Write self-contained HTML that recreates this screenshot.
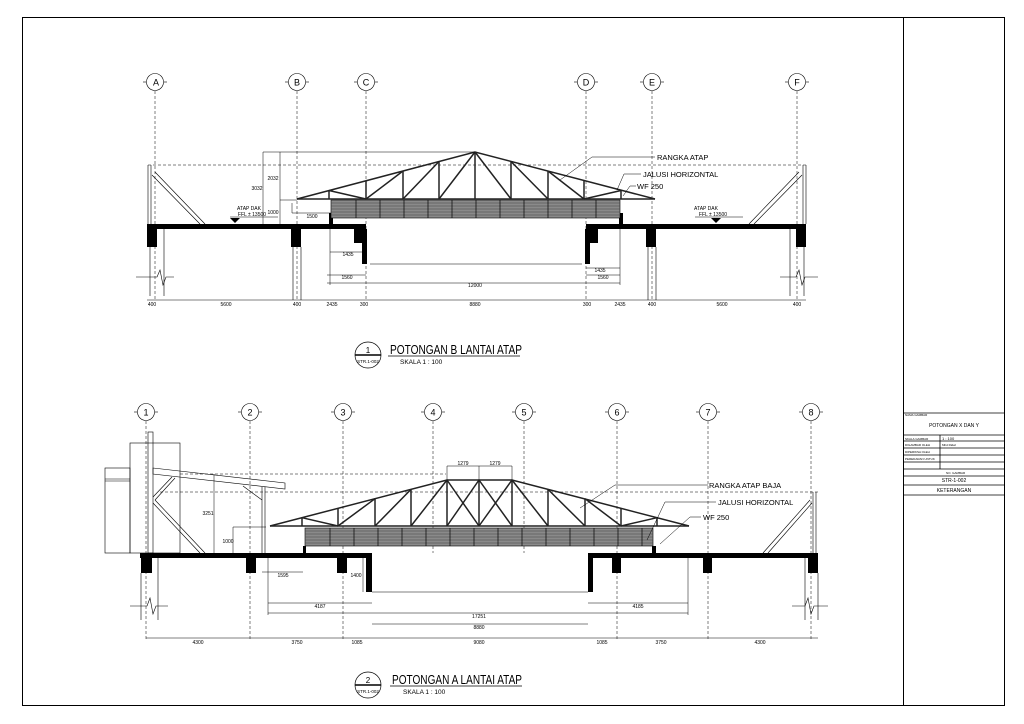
<!DOCTYPE html>
<html><head><meta charset="utf-8"><style>
html,body{margin:0;padding:0;background:#fff}
svg{display:block}
text{font-family:"Liberation Sans",sans-serif;fill:#000}
</style></head><body>
<svg width="1024" height="724" viewBox="0 0 1024 724" xmlns="http://www.w3.org/2000/svg">
<rect x="0" y="0" width="1024" height="724" fill="#fff"/>
<!-- frame -->
<rect x="22.5" y="17.5" width="982" height="688" fill="none" stroke="#000" stroke-width="1"/>
<line x1="903.5" y1="17" x2="903.5" y2="705" stroke="#000"/>
<!-- title block -->
<g stroke="#000" stroke-width="0.8" fill="none">
<line x1="903" y1="413" x2="1005" y2="413"/>
<line x1="903" y1="435" x2="1005" y2="435"/>
<line x1="903" y1="441" x2="1005" y2="441"/>
<line x1="903" y1="448" x2="1005" y2="448"/>
<line x1="903" y1="455" x2="1005" y2="455"/>
<line x1="903" y1="462" x2="1005" y2="462"/>
<line x1="903" y1="469" x2="1005" y2="469"/>
<line x1="903" y1="476" x2="1005" y2="476"/>
<line x1="903" y1="485" x2="1005" y2="485"/>
<line x1="903" y1="495" x2="1005" y2="495"/>
<line x1="940" y1="435" x2="940" y2="469"/>
</g>
<g font-size="3">
<text x="905" y="416">NAMA GAMBAR</text>
<text x="905" y="440">SKALA GAMBAR</text>
<text x="905" y="446">DIGAMBAR OLEH</text>
<text x="905" y="453">DIPERIKSA OLEH</text>
<text x="905" y="460">PEREDARAN UNTUK</text>
<text x="942" y="446">Mhd Ridwi</text>
<text x="946" y="474">NO. GAMBAR</text>
</g>
<text x="954" y="427" font-size="5" text-anchor="middle">POTONGAN X DAN Y</text>
<text x="942" y="440" font-size="4">1 : 100</text>
<text x="954" y="482" font-size="5" text-anchor="middle">STR-1-002</text>
<text x="954" y="492" font-size="5" text-anchor="middle">KETERANGAN</text>

<!-- ================= TOP SECTION ================= -->
<g stroke="#000" stroke-width="0.6" fill="none">
<!-- grid bubbles -->
<g>
<circle cx="155" cy="82" r="8.5"/><line x1="143" y1="82" x2="146" y2="82"/><line x1="164" y1="82" x2="167" y2="82"/>
<circle cx="297" cy="82" r="8.5"/><line x1="285" y1="82" x2="288" y2="82"/><line x1="306" y1="82" x2="309" y2="82"/>
<circle cx="366" cy="82" r="8.5"/><line x1="354" y1="82" x2="357" y2="82"/><line x1="375" y1="82" x2="378" y2="82"/>
<circle cx="586" cy="82" r="8.5"/><line x1="574" y1="82" x2="577" y2="82"/><line x1="595" y1="82" x2="598" y2="82"/>
<circle cx="652" cy="82" r="8.5"/><line x1="640" y1="82" x2="643" y2="82"/><line x1="661" y1="82" x2="664" y2="82"/>
<circle cx="797" cy="82" r="8.5"/><line x1="785" y1="82" x2="788" y2="82"/><line x1="806" y1="82" x2="809" y2="82"/>
</g>
<g stroke-dasharray="3,2" stroke-width="0.5">
<line x1="155" y1="91" x2="155" y2="300"/>
<line x1="297" y1="91" x2="297" y2="300"/>
<line x1="366" y1="91" x2="366" y2="300"/>
<line x1="586" y1="91" x2="586" y2="300"/>
<line x1="652" y1="91" x2="652" y2="300"/>
<line x1="797" y1="91" x2="797" y2="300"/>
<line x1="148" y1="165" x2="806" y2="165"/>
</g>
<!-- edge posts -->
<line x1="148" y1="165" x2="148" y2="224"/><line x1="151" y1="165" x2="151" y2="224"/>
<line x1="806" y1="165" x2="806" y2="224"/><line x1="803" y1="165" x2="803" y2="224"/>
<!-- braces -->
<line x1="152" y1="175" x2="200" y2="224"/><line x1="155" y1="172" x2="205" y2="224"/>
<line x1="802" y1="175" x2="754" y2="224"/><line x1="799" y1="172" x2="749" y2="224"/>
<!-- columns below (thin) -->
<line x1="150" y1="247" x2="150" y2="296"/><line x1="164" y1="229" x2="164" y2="296"/>
<line x1="293" y1="247" x2="293" y2="300"/><line x1="301" y1="247" x2="301" y2="300"/>
<line x1="648" y1="247" x2="648" y2="300"/><line x1="656" y1="247" x2="656" y2="300"/>
<line x1="804" y1="247" x2="804" y2="296"/><line x1="790" y1="229" x2="790" y2="296"/>
<!-- break lines -->
<polyline points="136,277 157,277 160,270 163,285 166,277 174,277"/>
<polyline points="780,277 796,277 799,270 802,285 805,277 818,277"/>
<!-- center opening line -->
<line x1="370" y1="264" x2="582" y2="264"/>
</g>
<!-- slab -->
<g fill="#000">
<rect x="147" y="224" width="219" height="5"/>
<rect x="586" y="224" width="220" height="5"/>
<rect x="147" y="229" width="10" height="18"/>
<rect x="291" y="229" width="10" height="18"/>
<rect x="354" y="229" width="12" height="14"/>
<rect x="362" y="229" width="5" height="35"/>
<rect x="586" y="229" width="12" height="14"/>
<rect x="585" y="229" width="5" height="35"/>
<rect x="646" y="229" width="10" height="18"/>
<rect x="796" y="229" width="10" height="18"/>
<rect x="329" y="213" width="4" height="11"/>
<rect x="619" y="213" width="4" height="11"/>
<polygon points="230,218 240,218 235,223"/>
<polygon points="711,218 721,218 716,223"/>
</g>
<!-- louvre band -->
<rect x="331" y="200" width="289" height="18" fill="#8a8a8a" stroke="#000" stroke-width="0.6"/>
<g stroke="#444" stroke-width="0.5">
<line x1="331" y1="203" x2="620" y2="203"/><line x1="331" y1="206" x2="620" y2="206"/>
<line x1="331" y1="209" x2="620" y2="209"/><line x1="331" y1="212" x2="620" y2="212"/>
<line x1="331" y1="215" x2="620" y2="215"/>
</g>
<g stroke="#000" stroke-width="0.7">
<line x1="356" y1="200" x2="356" y2="218"/><line x1="380" y1="200" x2="380" y2="218"/><line x1="404" y1="200" x2="404" y2="218"/><line x1="428" y1="200" x2="428" y2="218"/><line x1="452" y1="200" x2="452" y2="218"/><line x1="476" y1="200" x2="476" y2="218"/><line x1="500" y1="200" x2="500" y2="218"/><line x1="524" y1="200" x2="524" y2="218"/><line x1="548" y1="200" x2="548" y2="218"/><line x1="572" y1="200" x2="572" y2="218"/><line x1="596" y1="200" x2="596" y2="218"/>
</g>
<!-- truss top -->
<g stroke="#222" stroke-width="1.5" fill="none">
<polyline points="297,199 475,152 655,199"/>
<line x1="297" y1="199" x2="655" y2="199"/>
<line x1="329" y1="190.5" x2="329" y2="199"/><line x1="366" y1="181" x2="366" y2="199"/>
<line x1="403" y1="171" x2="403" y2="199"/><line x1="439" y1="161.5" x2="439" y2="199"/>
<line x1="475" y1="152" x2="475" y2="199"/>
<line x1="511" y1="161.5" x2="511" y2="199"/><line x1="548" y1="171" x2="548" y2="199"/>
<line x1="584" y1="181" x2="584" y2="199"/><line x1="621" y1="190.5" x2="621" y2="199"/>
<line x1="329" y1="190.5" x2="366" y2="199"/>
<line x1="366" y1="199" x2="403" y2="171"/><line x1="403" y1="199" x2="439" y2="161.5"/><line x1="439" y1="199" x2="475" y2="152"/>
<line x1="621" y1="190.5" x2="584" y2="199"/>
<line x1="584" y1="199" x2="548" y2="171"/><line x1="548" y1="199" x2="511" y2="161.5"/><line x1="511" y1="199" x2="475" y2="152"/>
</g>
<!-- dims top -->
<g stroke="#000" stroke-width="0.5" fill="none">
<line x1="147" y1="300" x2="806" y2="300"/>
<line x1="263" y1="152" x2="475" y2="152"/>
<line x1="263" y1="152" x2="263" y2="224"/><line x1="280" y1="152" x2="280" y2="224"/>
<line x1="280" y1="200" x2="297" y2="200"/>
<line x1="292" y1="203" x2="292" y2="213"/><line x1="292" y1="213" x2="331" y2="213"/>
<line x1="330" y1="226" x2="330" y2="285"/><line x1="620" y1="226" x2="620" y2="285"/>
<line x1="330" y1="252" x2="366" y2="252"/><line x1="586" y1="268" x2="620" y2="268"/>
<line x1="327" y1="275" x2="366" y2="275"/><line x1="586" y1="275" x2="620" y2="275"/>
<line x1="327" y1="283" x2="620" y2="283"/>
<line x1="230" y1="217" x2="278" y2="217"/><line x1="695" y1="217" x2="743" y2="217"/>
<!-- leaders -->
<polyline points="560,180 592,157 655,157"/>
<polyline points="617,190 624,174 641,174"/>
<polyline points="623,196 630,186 636,186"/>
</g>
<g font-size="5" text-anchor="middle">
<text x="152" y="306">400</text><text x="226" y="306">5600</text><text x="297" y="306">400</text>
<text x="332" y="306">2435</text><text x="364" y="306">300</text><text x="475" y="306">8880</text>
<text x="587" y="306">300</text><text x="620" y="306">2435</text><text x="652" y="306">400</text>
<text x="722" y="306">5600</text><text x="797" y="306">400</text>
<text x="348" y="256">1435</text><text x="600" y="272">1435</text>
<text x="347" y="279">1560</text><text x="603" y="279">1560</text>
<text x="475" y="287">12000</text>
<text x="273" y="180">2032</text><text x="257" y="190">3032</text><text x="273" y="214">1000</text>
<text x="312" y="218">1500</text>
<text x="249" y="210">ATAP DAK</text><text x="252" y="216">FFL ± 13500</text>
<text x="706" y="210">ATAP DAK</text><text x="713" y="216">FFL ± 13500</text>
</g>
<g font-size="9" font-family="Liberation Sans">
<text x="156" y="85.5" text-anchor="middle">A</text><text x="297" y="85.5" text-anchor="middle">B</text>
<text x="366" y="85.5" text-anchor="middle">C</text><text x="586" y="85.5" text-anchor="middle">D</text>
<text x="652" y="85.5" text-anchor="middle">E</text><text x="797" y="85.5" text-anchor="middle">F</text>
</g>
<g font-size="7.5">
<text x="657" y="160">RANGKA ATAP</text>
<text x="643" y="177">JALUSI HORIZONTAL</text>
<text x="637" y="189">WF 250</text>
</g>
<!-- title 1 -->
<circle cx="368" cy="355" r="13" fill="none" stroke="#000" stroke-width="0.7"/>
<line x1="355" y1="355" x2="381" y2="355" stroke="#000" stroke-width="1.5"/>
<text x="368" y="353" font-size="8" text-anchor="middle">1</text>
<text x="368" y="363" font-size="4.5" text-anchor="middle">STR.1-002</text>
<text x="390" y="354" font-size="13" transform="scale(1,1)" textLength="132" lengthAdjust="spacingAndGlyphs">POTONGAN B LANTAI ATAP</text>
<line x1="388" y1="356" x2="520" y2="356" stroke="#000" stroke-width="0.7"/>
<text x="400" y="364" font-size="6.5">SKALA 1 : 100</text>

<!-- ================= BOTTOM SECTION ================= -->
<g stroke="#000" stroke-width="0.6" fill="none">
<g>
<circle cx="146" cy="412" r="8.5"/><line x1="134" y1="412" x2="137" y2="412"/><line x1="155" y1="412" x2="158" y2="412"/>
<circle cx="250" cy="412" r="8.5"/><line x1="238" y1="412" x2="241" y2="412"/><line x1="259" y1="412" x2="262" y2="412"/>
<circle cx="343" cy="412" r="8.5"/><line x1="331" y1="412" x2="334" y2="412"/><line x1="352" y1="412" x2="355" y2="412"/>
<circle cx="433" cy="412" r="8.5"/><line x1="421" y1="412" x2="424" y2="412"/><line x1="442" y1="412" x2="445" y2="412"/>
<circle cx="524" cy="412" r="8.5"/><line x1="512" y1="412" x2="515" y2="412"/><line x1="533" y1="412" x2="536" y2="412"/>
<circle cx="617" cy="412" r="8.5"/><line x1="605" y1="412" x2="608" y2="412"/><line x1="626" y1="412" x2="629" y2="412"/>
<circle cx="708" cy="412" r="8.5"/><line x1="696" y1="412" x2="699" y2="412"/><line x1="717" y1="412" x2="720" y2="412"/>
<circle cx="811" cy="412" r="8.5"/><line x1="799" y1="412" x2="802" y2="412"/><line x1="820" y1="412" x2="823" y2="412"/>
</g>
<g stroke-dasharray="3,2" stroke-width="0.5">
<line x1="146" y1="421" x2="146" y2="640"/><line x1="250" y1="421" x2="250" y2="640"/>
<line x1="343" y1="421" x2="343" y2="640"/><line x1="433" y1="421" x2="433" y2="553"/>
<line x1="524" y1="421" x2="524" y2="553"/><line x1="617" y1="421" x2="617" y2="640"/>
<line x1="708" y1="421" x2="708" y2="640"/><line x1="811" y1="421" x2="811" y2="640"/>
<line x1="180" y1="474" x2="446" y2="474"/>
<line x1="160" y1="492" x2="818" y2="492"/>
</g>
<!-- left building -->
<rect x="130" y="443" width="50" height="110"/>
<rect x="105" y="468" width="25" height="85"/>
<line x1="105" y1="479" x2="130" y2="479"/><line x1="105" y1="481" x2="130" y2="481"/>
<rect x="148" y="432" width="5" height="121"/>
<polygon points="153,468 285,483 285,489 153,474"/>
<line x1="262" y1="487" x2="262" y2="553"/><line x1="265" y1="487" x2="265" y2="553"/>
<line x1="153" y1="497" x2="172" y2="477"/><line x1="155" y1="500" x2="175" y2="478"/>
<line x1="153" y1="503" x2="200" y2="553"/><line x1="155" y1="500" x2="205" y2="553"/>
<line x1="243" y1="486" x2="262" y2="500"/>
<line x1="813" y1="492" x2="813" y2="553"/><line x1="816" y1="492" x2="816" y2="553"/>
<line x1="810" y1="500" x2="763" y2="553"/><line x1="812" y1="503" x2="768" y2="553"/>
<!-- columns below -->
<line x1="141" y1="573" x2="141" y2="620"/><line x1="158" y1="558" x2="158" y2="620"/>
<line x1="805" y1="558" x2="805" y2="620"/><line x1="818" y1="573" x2="818" y2="620"/>
<polyline points="130,606 147,606 150,598 153,614 156,606 168,606"/>
<polyline points="792,606 805,606 808,598 811,614 814,606 828,606"/>
<line x1="372" y1="592" x2="588" y2="592"/>
</g>
<g fill="#000">
<rect x="140" y="553" width="232" height="5"/>
<rect x="588" y="553" width="230" height="5"/>
<rect x="141" y="558" width="11" height="15"/>
<rect x="246" y="558" width="10" height="15"/>
<rect x="337" y="558" width="10" height="15"/>
<rect x="366" y="558" width="6" height="34"/>
<rect x="588" y="558" width="5" height="34"/>
<rect x="612" y="558" width="9" height="15"/>
<rect x="703" y="558" width="9" height="15"/>
<rect x="808" y="558" width="10" height="15"/>
<rect x="303" y="546" width="3" height="7"/>
<rect x="652" y="546" width="4" height="7"/>
</g>
<rect x="305" y="528" width="348" height="18" fill="#8a8a8a" stroke="#000" stroke-width="0.6"/>
<g stroke="#444" stroke-width="0.5">
<line x1="305" y1="531" x2="653" y2="531"/><line x1="305" y1="534" x2="653" y2="534"/>
<line x1="305" y1="537" x2="653" y2="537"/><line x1="305" y1="540" x2="653" y2="540"/>
<line x1="305" y1="543" x2="653" y2="543"/>
</g>
<g stroke="#000" stroke-width="0.7">
<line x1="330" y1="528" x2="330" y2="546"/><line x1="354" y1="528" x2="354" y2="546"/><line x1="378" y1="528" x2="378" y2="546"/><line x1="402" y1="528" x2="402" y2="546"/><line x1="426" y1="528" x2="426" y2="546"/><line x1="450" y1="528" x2="450" y2="546"/><line x1="474" y1="528" x2="474" y2="546"/><line x1="498" y1="528" x2="498" y2="546"/><line x1="522" y1="528" x2="522" y2="546"/><line x1="546" y1="528" x2="546" y2="546"/><line x1="570" y1="528" x2="570" y2="546"/><line x1="594" y1="528" x2="594" y2="546"/><line x1="618" y1="528" x2="618" y2="546"/><line x1="642" y1="528" x2="642" y2="546"/>
</g>
<g stroke="#222" stroke-width="1.5" fill="none">
<polyline points="270,526 447,480 512,480 689,526"/>
<line x1="270" y1="526" x2="689" y2="526"/>
<line x1="302" y1="517.7" x2="302" y2="526"/><line x1="338" y1="508.3" x2="338" y2="526"/>
<line x1="375" y1="498.7" x2="375" y2="526"/><line x1="411" y1="489.4" x2="411" y2="526"/>
<line x1="447" y1="480" x2="447" y2="526"/><line x1="479" y1="480" x2="479" y2="526"/>
<line x1="512" y1="480" x2="512" y2="526"/><line x1="548" y1="489.4" x2="548" y2="526"/>
<line x1="585" y1="498.7" x2="585" y2="526"/><line x1="621" y1="508.3" x2="621" y2="526"/>
<line x1="657" y1="517.7" x2="657" y2="526"/>
<line x1="302" y1="517.7" x2="338" y2="526"/><line x1="338" y1="526" x2="375" y2="498.7"/>
<line x1="375" y1="526" x2="411" y2="489.4"/><line x1="411" y1="526" x2="447" y2="480"/>
<line x1="447" y1="480" x2="479" y2="526"/><line x1="479" y1="480" x2="447" y2="526"/>
<line x1="479" y1="480" x2="512" y2="526"/><line x1="512" y1="480" x2="479" y2="526"/>
<line x1="657" y1="517.7" x2="621" y2="526"/><line x1="621" y1="526" x2="585" y2="498.7"/>
<line x1="585" y1="526" x2="548" y2="489.4"/><line x1="548" y1="526" x2="512" y2="480"/>
</g>
<g stroke="#000" stroke-width="0.5" fill="none">
<line x1="146" y1="638" x2="818" y2="638"/>
<line x1="447" y1="466" x2="512" y2="466"/>
<line x1="447" y1="466" x2="447" y2="480"/><line x1="479" y1="466" x2="479" y2="480"/><line x1="512" y1="466" x2="512" y2="480"/>
<line x1="214" y1="474" x2="214" y2="553"/>
<line x1="233" y1="527" x2="266" y2="527"/><line x1="233" y1="527" x2="233" y2="553"/>
<line x1="262" y1="572" x2="303" y2="572"/>
<line x1="268" y1="553" x2="268" y2="615"/><line x1="688" y1="553" x2="688" y2="615"/>
<line x1="268" y1="603" x2="372" y2="603"/><line x1="588" y1="603" x2="688" y2="603"/>
<line x1="268" y1="613" x2="688" y2="613"/>
<line x1="372" y1="624" x2="588" y2="624"/>
<line x1="363" y1="558" x2="363" y2="592"/>
<polyline points="580,508 615,485 708,485"/>
<polyline points="647,540 665,502 716,502"/>
<polyline points="660,544 690,517 701,517"/>
</g>
<g font-size="5" text-anchor="middle">
<text x="198" y="644">4300</text><text x="297" y="644">3750</text><text x="357" y="644">1085</text>
<text x="479" y="644">9080</text><text x="602" y="644">1085</text><text x="661" y="644">3750</text>
<text x="760" y="644">4300</text>
<text x="463" y="465">1279</text><text x="495" y="465">1279</text>
<text x="208" y="515">3251</text><text x="228" y="543">1000</text>
<text x="283" y="577">1595</text><text x="356" y="577">1400</text>
<text x="320" y="608">4187</text><text x="638" y="608">4185</text>
<text x="479" y="618">17251</text><text x="479" y="629">8880</text>
</g>
<g font-size="9">
<text x="146" y="415.5" text-anchor="middle">1</text><text x="250" y="415.5" text-anchor="middle">2</text>
<text x="343" y="415.5" text-anchor="middle">3</text><text x="433" y="415.5" text-anchor="middle">4</text>
<text x="524" y="415.5" text-anchor="middle">5</text><text x="617" y="415.5" text-anchor="middle">6</text>
<text x="708" y="415.5" text-anchor="middle">7</text><text x="811" y="415.5" text-anchor="middle">8</text>
</g>
<g font-size="7.5">
<text x="709" y="488">RANGKA ATAP BAJA</text>
<text x="718" y="505">JALUSI HORIZONTAL</text>
<text x="703" y="520">WF 250</text>
</g>
<circle cx="368" cy="685" r="13" fill="none" stroke="#000" stroke-width="0.7"/>
<line x1="355" y1="685" x2="381" y2="685" stroke="#000" stroke-width="1.5"/>
<text x="368" y="683" font-size="8" text-anchor="middle">2</text>
<text x="368" y="693" font-size="4.5" text-anchor="middle">STR.1-002</text>
<text x="392" y="684" font-size="13" textLength="130" lengthAdjust="spacingAndGlyphs">POTONGAN A LANTAI ATAP</text>
<line x1="390" y1="686" x2="522" y2="686" stroke="#000" stroke-width="0.7"/>
<text x="403" y="694" font-size="6.5">SKALA 1 : 100</text>
</svg>
</body></html>
